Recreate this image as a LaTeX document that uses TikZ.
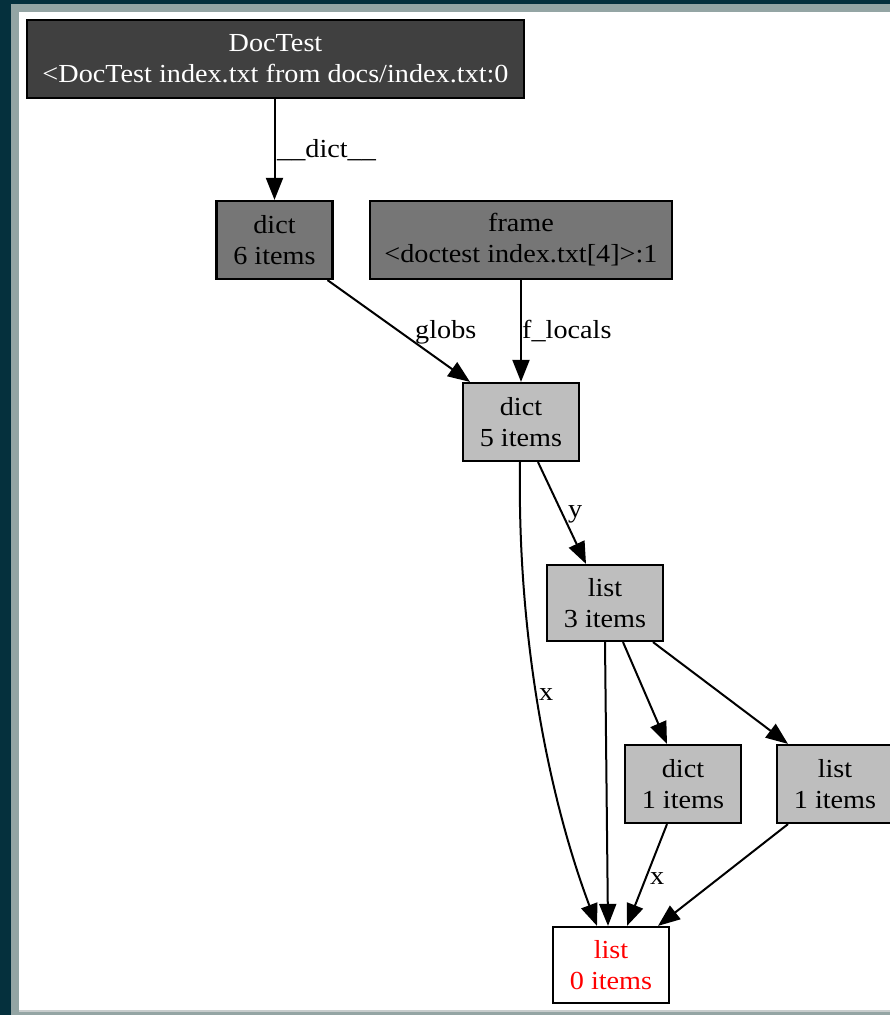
\documentclass[tikz,border=0pt]{standalone}
\usepackage{fontspec}
\setmainfont{Liberation Serif}[FakeStretch=1.085]
\usetikzlibrary{arrows.meta}
\definecolor{bgteal}{HTML}{05303D}
\definecolor{bggray}{HTML}{94A5A4}
\definecolor{bglight}{HTML}{C8CDCD}
\definecolor{darkfill}{HTML}{404040}
\definecolor{midfill}{HTML}{767676}
\definecolor{lightfill}{HTML}{BEBEBE}
\begin{document}
\begin{tikzpicture}[x=1pt,y=-1pt,
  gfont/.style={font=\fontsize{26}{31}\selectfont},
  box/.style={draw=black, line width=2.2pt, align=center, inner sep=0pt, gfont, minimum height=78pt},
  small/.style={box, minimum width=116pt},
  edge/.style={line width=2pt, -{Triangle[length=22pt,width=17pt]}},
  lbl/.style={gfont, inner sep=0pt, anchor=base west}]
\useasboundingbox (0,0) rectangle (890,1015);
% window background
\fill[bgteal] (0,0) rectangle (890,1015);
\fill[bggray] (11,4) rectangle (890,1015);
\fill[bglight] (19,12) rectangle (890,1012);
\fill[white] (19,12) rectangle (890,1010);
% nodes
\node[box, fill=darkfill, text=white, minimum width=497pt] (doctest) at (275.5,59) {DocTest\\<DocTest index.txt from docs/index.txt:0};
\node[small, fill=midfill] (dict6) at (274.5,240) {dict\\6 items};
\node[box, fill=midfill, minimum width=302pt] (frame) at (521,240) {frame\\<doctest index.txt[4]>:1};
\node[small, fill=lightfill] (dict5) at (521,422) {dict\\5 items};
\node[small, fill=lightfill, minimum height=76pt] (list3) at (605,603) {list\\3 items};
\node[small, fill=lightfill] (dict1) at (683,784) {dict\\1 items};
\node[small, fill=lightfill] (list1) at (835,784) {list\\1 items};
\node[small, fill=white, text=red, minimum height=76pt] (list0) at (611,965) {list\\0 items};
% edges
\draw[edge] (doctest.south -| dict6.north) -- (dict6.north);
\draw[edge] ([xshift=53pt]dict6.south) -- ([xshift=-51pt]dict5.north);
\draw[edge] (frame.south) -- (dict5.north);
\draw[edge] ([xshift=17pt]dict5.south) -- ([xshift=-19pt]list3.north);
\draw[edge] ([xshift=-1pt]dict5.south) .. controls +(-3,179) and +(-47,-125) .. ([xshift=-14pt]list0.north);
\draw[edge] (list3.south) -- ([xshift=-3pt]list0.north);
\draw[edge] ([xshift=18pt]list3.south) -- ([xshift=-16pt]dict1.north);
\draw[edge] ([xshift=48pt]list3.south) -- ([xshift=-47pt]list1.north);
\draw[edge] ([xshift=-16pt]dict1.south) -- ([xshift=16pt]list0.north);
\draw[edge] ([xshift=-47pt]list1.south) -- ([xshift=47pt]list0.north);
% edge labels
\node[lbl] (ldict) at (277,157) {\_\_dict\_\_};
\node[lbl] (lglobs) at (415,338) {globs};
\node[lbl] (lflocals) at (522,338) {f\_locals};
\node[lbl] (ly) at (568,517) {y};
\node[lbl] (lx1) at (539,700) {x};
\node[lbl] (lx2) at (650,884) {x};
\end{tikzpicture}
\end{document}
